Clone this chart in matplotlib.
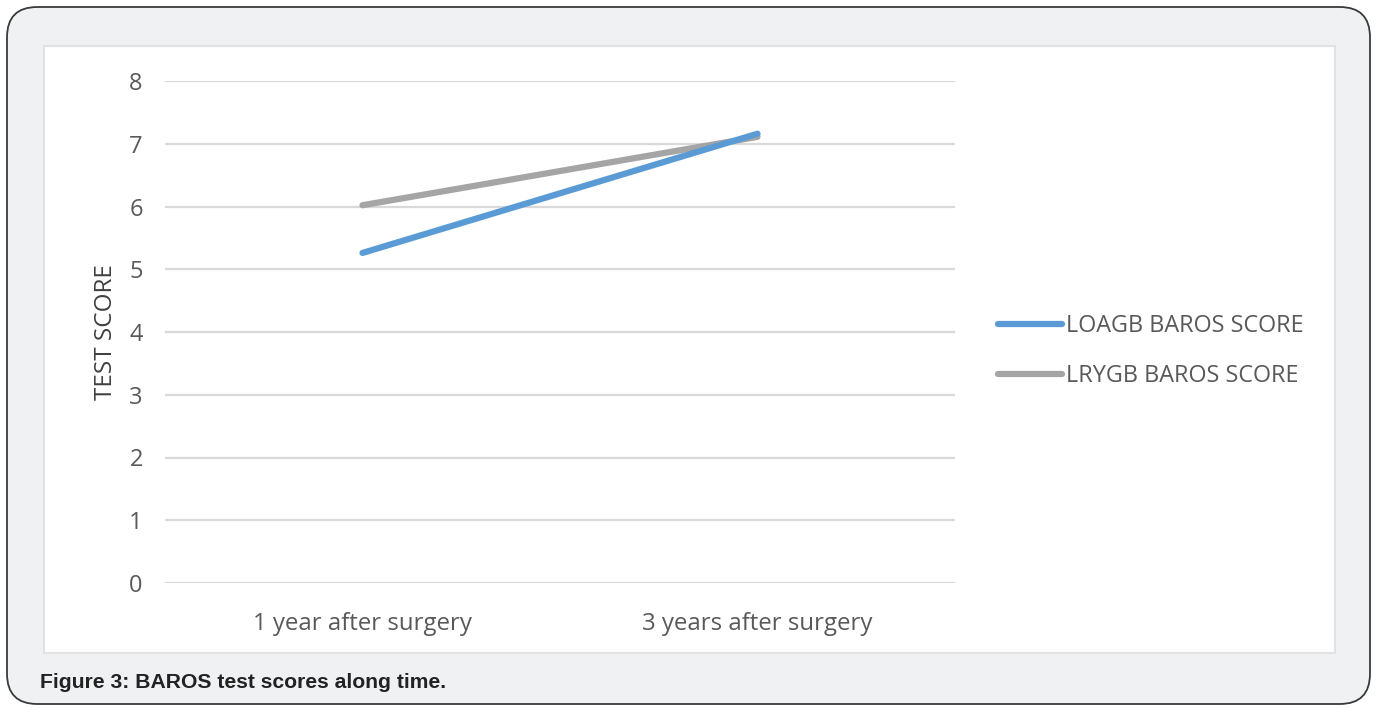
import matplotlib.pyplot as plt
from matplotlib.patches import FancyBboxPatch, Rectangle

# Data
categories = ['1 year after surgery', '3 years after surgery']
loagb_scores = [5.26, 7.16]
lrygb_scores = [6.02, 7.11]
series_names = ['LOAGB BAROS SCORE', 'LRYGB BAROS SCORE']
y_ticks = [0, 1, 2, 3, 4, 5, 6, 7, 8]

W, H = 1377, 708
fig = plt.figure(figsize=(W / 100, H / 100), dpi=100)
fig.patch.set_facecolor('white')

def fx(px):
    return px / W

def fy(py):
    return 1 - py / H

# Outer rounded frame
frame = FancyBboxPatch((fx(7), fy(704)), fx(1370) - fx(7), fy(7) - fy(704),
                       boxstyle='round,pad=0,rounding_size=0.022',
                       transform=fig.transFigure, facecolor='#f0f1f3',
                       edgecolor='#3a3a3a', linewidth=1.3, mutation_aspect=W / H,
                       zorder=-10)
fig.patches.append(frame)

# Inner white chart panel
panel = Rectangle((fx(44), fy(653)), fx(1335) - fx(44), fy(46) - fy(653),
                  transform=fig.transFigure, facecolor='white',
                  edgecolor='#e2e2e2', linewidth=1.5, zorder=-9)
fig.patches.append(panel)

ax = fig.add_axes([fx(165), fy(583), fx(955) - fx(165), fy(81) - fy(583)])
ax.set_facecolor('none')

x = [0, 1]
l1, = ax.plot(x, loagb_scores, color='#5b9bd5', linewidth=4.5,
              solid_capstyle='round', label=series_names[0], zorder=3)
l2, = ax.plot(x, lrygb_scores, color='#a5a5a5', linewidth=4.5,
              solid_capstyle='round', label=series_names[1], zorder=2)

ax.set_xlim(-0.5, 1.5)
ax.set_ylim(0, 8)
ax.set_yticks(y_ticks)
ax.set_xticks(x)
ax.set_xticklabels(categories)
for s in ax.spines.values():
    s.set_visible(False)
ax.grid(axis='y', color='#d9d9d9', linewidth=1.6)
ax.set_axisbelow(True)
ax.tick_params(length=0, labelcolor='#595959')
ax.tick_params(axis='y', pad=16, labelsize=17)
ax.tick_params(axis='x', pad=21, labelsize=17.3)
for lab in ax.get_xticklabels() + ax.get_yticklabels():
    lab.set_fontfamily('Open Sans')

ax.set_ylabel('TEST SCORE', fontsize=17.5, color='#404040', family='Open Sans',
              labelpad=8)

leg = fig.legend(handles=[l1, l2], loc='center left',
                 bbox_to_anchor=(fx(977), fy(351)), frameon=False,
                 handlelength=2.75, handletextpad=0.15, labelspacing=1.12,
                 prop={'family': 'Open Sans', 'size': 16.8})
for t in leg.get_texts():
    t.set_color('#595959')

fig.text(fx(40), fy(682), 'Figure 3: BAROS test scores along time.',
         fontsize=15.2, fontweight='bold', color='#222222',
         family='Liberation Sans', va='center', ha='left')

fig.savefig('out.png', dpi=100)
